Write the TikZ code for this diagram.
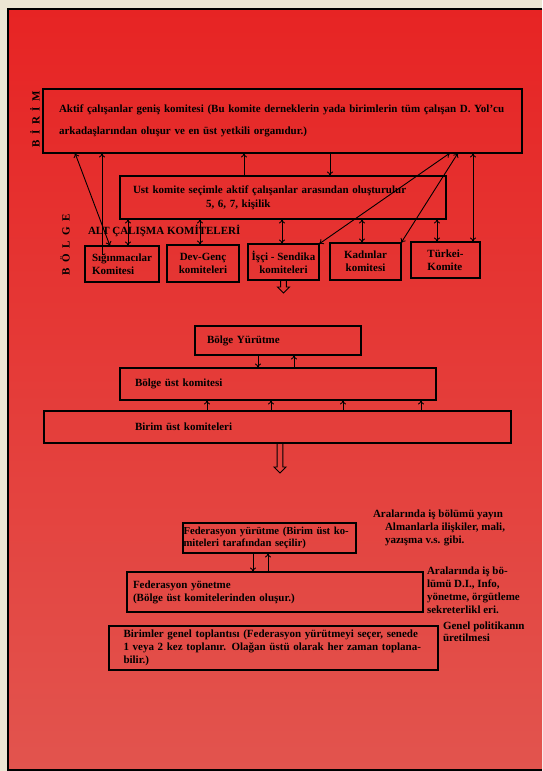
\documentclass[tikz,border=0pt]{standalone}
\usepackage{fontspec}
\setmainfont{Liberation Serif}
\usetikzlibrary{positioning,shapes.arrows,arrows.meta}
\definecolor{kirmizi}{RGB}{231,36,36}
\definecolor{koyukirmizi}{RGB}{234,44,40}
\definecolor{pembe}{RGB}{226,84,78}
\definecolor{krem}{RGB}{236,230,212}
\newcommand{\bosluk}{\hspace{5.5pt}}

\begin{document}
\begin{tikzpicture}[x=1pt,y=-1pt,inner sep=0pt,outer sep=0pt,>={To[length=4.5pt,width=6pt]},
kutu/.style={draw,rectangle,line width=1.4pt,align=left,font=\bfseries\fontsize{11}{13}\selectfont},
altkutu/.style={kutu,align=center,minimum width=71pt,minimum height=36pt},
yazi/.style={align=left,font=\bfseries\fontsize{11}{13}\selectfont},
ok/.style={single arrow,draw,line width=0.9pt,shape border rotate=270,minimum width=12pt,single arrow head extend=3pt,inner sep=2.3pt},
baglanti/.style={line width=0.9pt}]

\useasboundingbox (0,0) rectangle (542,771);
% sayfa
\fill[krem] (0,0) rectangle (542,771);
\shade[top color=kirmizi,middle color=koyukirmizi,bottom color=pembe] (8,9) rectangle (542,770);
\draw[line width=1.8pt] (542,9) -- (8,9) -- (8,770) -- (542,770);

% birim
\draw (35,119) node[yazi,rotate=90] (birimyazi) {B\bosluk İ\bosluk R\bosluk İ\bosluk M};
\draw (282.5,121) node[kutu,minimum width=479pt,minimum height=64pt,text width=447pt,font=\bfseries\fontsize{11}{22}\selectfont] (birim)
  {Aktif çalışanlar geniş komitesi (Bu komite derneklerin yada birimlerin tüm çalışan D. Yol'cu\\arkadaşlarından oluşur ve en üst yetkili organıdur.)};

% bolge
\draw (65,245) node[yazi,rotate=90] (bolgeyazi) {B\bosluk Ö\bosluk L\bosluk G\bosluk E};
\draw (283,197.5) node[kutu,minimum width=326pt,minimum height=43pt,text width=300pt,font=\bfseries\fontsize{11}{14}\selectfont] (ust)
  {Ust komite seçimle aktif çalışanlar arasından oluşturulur\\\hspace*{73pt}5, 6, 7, kişilik};
\draw (88,234) node[yazi,anchor=base west] (altyazi) {ALT ÇALIŞMA KOMİTELERİ};
\draw (122,264) node[altkutu,align=left,minimum width=74pt] (sig) {Sığınmacılar\\Komitesi};
\draw (203,263.5) node[altkutu,minimum width=72pt,minimum height=37pt] (dev) {Dev-Genç\\komiteleri};
\draw (283.5,262) node[altkutu] (isci) {İşçi - Sendika\\komiteleri};
\draw (365.5,261.5) node[altkutu,minimum height=37pt] (kad) {Kadınlar\\komitesi};
\draw (445.5,260) node[altkutu,align=left,minimum width=69pt] (turk) {Türkei-\\Komite};

\draw[baglanti,<->] (birim.south -| 75,0) -- (sig.north -| 110,0);
\draw[baglanti,->] (sig.north -| 102,0) ++(0,9) -- (birim.south -| 102,0);
\draw[baglanti,->] (ust.north -| 244,0) -- (birim.south -| 244,0);
\draw[baglanti,->] (birim.south -| 330,0) -- (ust.north -| 330,0);
\foreach \k/\x in {sig/128,dev/200,isci/282,kad/362,turk/437}
  \draw[baglanti,<->] (ust.south -| \x,0) -- (\k.north -| \x,0);
\draw[baglanti,<->] (isci.north east) -- (birim.south -| 450,0);
\draw[baglanti,<->] (kad.north east) -- (birim.south -| 458,0);
\draw[baglanti,<->] (turk.north -| 473,0) -- (birim.south -| 473,0);
\node[ok,minimum height=13pt,below=0pt of isci] (ok1) {};

% bolge yurutme
\draw (278,340.5) node[kutu,minimum width=166pt,minimum height=29pt,text width=142pt] (by) {Bölge Yürütme};
\draw (278,384) node[kutu,minimum width=316pt,minimum height=32pt,text width=286pt] (bu) {Bölge üst komitesi};
\draw (277.5,427) node[kutu,minimum width=467pt,minimum height=32pt,text width=285pt] (bi) {Birim üst komiteleri};
\draw[baglanti,->] (by.south -| 258,0) -- (bu.north -| 258,0);
\draw[baglanti,->] (bu.north -| 294,0) -- (by.south -| 294,0);
\foreach \x in {207,271,343,421}
  \draw[baglanti,->] (bi.north -| \x,0) -- (bu.south -| \x,0);
\node[ok,minimum height=30pt,below=0pt of bi,xshift=2.5pt] (ok2) {};

% federasyon
\draw (269.5,538) node[kutu,minimum width=173pt,minimum height=30pt,text width=172pt,font=\bfseries\fontsize{10.7}{12}\selectfont] (fy)
  {Federasyon yürütme (Birim üst ko-\\miteleri tarafından seçilir)};
\draw (275,592) node[kutu,minimum width=296pt,minimum height=40pt,text width=284pt] (fyon)
  {Federasyon yönetme\\(Bölge üst komitelerinden oluşur.)};
\draw (273.5,648) node[kutu,minimum width=329pt,minimum height=44pt,text width=300pt] (bgt)
  {Birimler genel toplantısı (Federasyon yürütmeyi seçer, senede\\1 veya 2 kez toplanır. Olağan üstü olarak her zaman toplana-\\bilir.)};
\draw[baglanti,->] (fy.south -| 253,0) -- (fyon.north -| 253,0);
\draw[baglanti,->] (fyon.north -| 268,0) -- (fy.south -| 268,0);

\draw (373,510) node[yazi,anchor=north west] (not1)
  {Aralarında iş bölümü yayın\\\hspace*{12pt}Almanlarla ilişkiler, mali,\\\hspace*{12pt}yazışma v.s. gibi.};
\draw (427,567) node[yazi,anchor=north west] (not2)
  {Aralarında iş bö-\\lümü D.I., Info,\\yönetme, örgütleme\\sekreterlikl eri.};
\draw (443,622) node[yazi,anchor=north west,font=\bfseries\fontsize{11}{12}\selectfont] (not3)
  {Genel politikanın\\üretilmesi};
\end{tikzpicture}
\end{document}
